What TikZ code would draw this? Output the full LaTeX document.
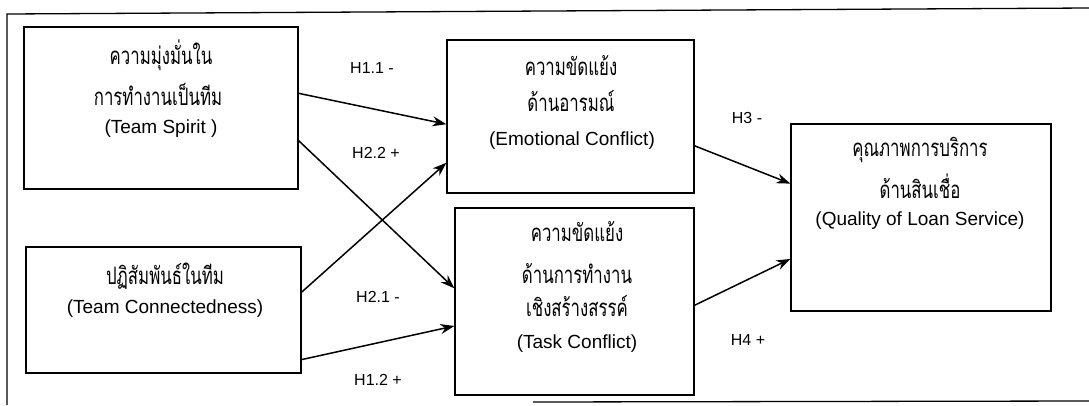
\documentclass[tikz,border=0pt]{standalone}
\usepackage{fontspec}
\setmainfont{Liberation Sans}
\newfontfamily\thaifont[Script=Thai,FakeStretch=0.70]{Loma}
\usetikzlibrary{calc,arrows.meta}
\tikzset{
  box/.style={draw, line width=1.2pt, minimum width=#1, inner sep=0pt},
  th/.style={font=\thaifont\fontsize{24}{26}\selectfont, inner sep=0pt},
  en/.style={font=\fontsize{19}{22}\selectfont, inner sep=0pt},
  lab/.style={font=\fontsize{16}{19}\selectfont, inner sep=0pt},
  arr/.style={-{Stealth[length=14pt,width=10pt]}, line width=1.5pt},
}
\begin{document}
\begin{tikzpicture}[x=1pt,y=-1pt]
\useasboundingbox (0,0) rectangle (1089,405);
% outer frame (partly cropped)
\draw[line width=1.3pt] (7,405) -- (7,14) -- (1089,8);
\draw[line width=1.3pt] (533,402) -- (1089,401);
% boxes
\node[box=274pt, minimum height=162pt] (b1) at (161,108) {};
\node[box=275pt, minimum height=126pt] (b2) at (163.5,310) {};
\node[box=247pt, minimum height=153pt] (b3) at (570.5,116.5) {};
\node[box=239pt, minimum height=187pt] (b4) at (574.5,301.5) {};
\node[box=260pt, minimum height=187pt] (b5) at (921,217.5) {};
% texts
\node[th] (t1a) at (161,55) {ความมุ่งมั่นใน};
\node[th] (t1b) at (158,94) {การทำงานเป็นทีม};
\node[en] (t1c) at (161,129) {(Team Spirit )};
\node[th] (t2a) at (165,276) {ปฏิสัมพันธ์ในทีม};
\node[en] (t2b) at (165,309) {(Team Connectedness)};
\node[th] (t3a) at (571,66) {ความขัดแย้ง};
\node[th] (t3b) at (571,101) {ด้านอารมณ์};
\node[en] (t3c) at (572,141) {(Emotional Conflict)};
\node[th] (t4a) at (577,232) {ความขัดแย้ง};
\node[th] (t4b) at (577,274) {ด้านการทำงาน};
\node[th] (t4c) at (577,306) {เชิงสร้างสรรค์};
\node[en] (t4d) at (577,344) {(Task Conflict)};
\node[th] (t5a) at (920,150) {คุณภาพการบริการ};
\node[th] (t5b) at (920,186) {ด้านสินเชื่อ};
\node[en] (t5c) at (920,221) {(Quality of Loan Service)};
% labels
\node[lab] (h11) at (372,68) {H1.1 -};
\node[lab] (h22) at (376,153) {H2.2 +};
\node[lab] (h21) at (378,297) {H2.1 -};
\node[lab] (h12) at (378,380) {H1.2 +};
\node[lab] (h3) at (747,118) {H3 -};
\node[lab] (h4) at (748,340) {H4 +};
% arrows
\draw[arr] ($(b1.north east)!0.41!(b1.south east)$) -- ($(b3.north west)!0.55!(b3.south west)$);
\draw[arr] ($(b1.north east)!0.70!(b1.south east)$) -- ($(b4.north west)!0.43!(b4.south west)$);
\draw[arr] ($(b2.north east)!0.36!(b2.south east)$) -- ($(b3.north west)!0.80!(b3.south west)$);
\draw[arr] ($(b2.north east)!0.89!(b2.south east)$) -- ($(b4.north west)!0.63!(b4.south west)$);
\draw[arr] ($(b3.north east)!0.69!(b3.south east)$) -- ($(b5.north west)!0.32!(b5.south west)$);
\draw[arr] ($(b4.north east)!0.52!(b4.south east)$) -- ($(b5.north west)!0.72!(b5.south west)$);
\end{tikzpicture}
\end{document}
